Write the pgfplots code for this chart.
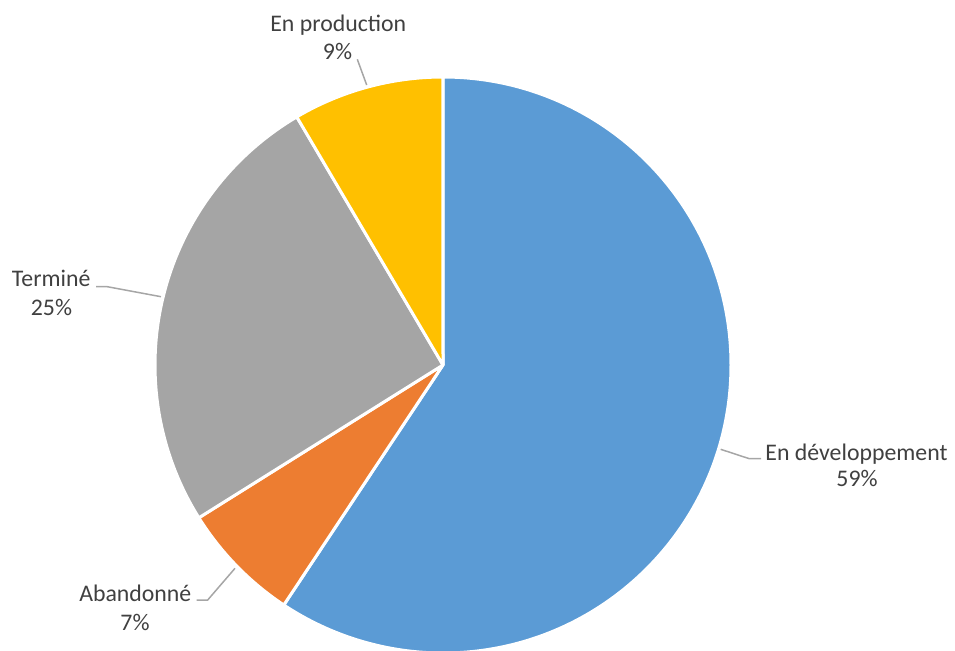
\documentclass[border=0pt]{standalone}
\usepackage{fontspec}
\setmainfont{Carlito}
\usepackage{pgfplots}
\pgfplotsset{compat=1.18}
\definecolor{cdev}{HTML}{5B9BD5}
\definecolor{caband}{HTML}{ED7D31}
\definecolor{cterm}{HTML}{A5A5A5}
\definecolor{cprod}{HTML}{FFC000}
\definecolor{lbl}{HTML}{404040}
\definecolor{lead}{HTML}{A6A6A6}
% data: counts per status (clockwise from the top)
\def\vDev{70}
\def\vAband{8}
\def\vTerm{30}
\def\vProd{10}
\pgfmathsetmacro{\vTotal}{\vDev+\vAband+\vTerm+\vProd}
\pgfmathsetmacro{\aA}{90}
\pgfmathsetmacro{\aB}{\aA-\vDev/\vTotal*360}
\pgfmathsetmacro{\aC}{\aB-\vAband/\vTotal*360}
\pgfmathsetmacro{\aD}{\aC-\vTerm/\vTotal*360}
\pgfmathsetmacro{\aE}{\aD-\vProd/\vTotal*360}
\def\R{144pt}
\begin{document}
\begin{tikzpicture}
\begin{axis}[width=477.5pt,height=325pt,scale only axis,hide axis,
  xmin=0,xmax=955,ymin=0,ymax=650,clip=true]
\def\cx{443}\def\cy{285}
\filldraw[fill=cdev,draw=white,line width=1.5pt,line join=round] (axis cs:\cx,\cy) -- ++(\aA:\R) arc[start angle=\aA,end angle=\aB,radius=\R] -- cycle;
\filldraw[fill=caband,draw=white,line width=1.5pt,line join=round] (axis cs:\cx,\cy) -- ++(\aB:\R) arc[start angle=\aB,end angle=\aC,radius=\R] -- cycle;
\filldraw[fill=cterm,draw=white,line width=1.5pt,line join=round] (axis cs:\cx,\cy) -- ++(\aC:\R) arc[start angle=\aC,end angle=\aD,radius=\R] -- cycle;
\filldraw[fill=cprod,draw=white,line width=1.5pt,line join=round] (axis cs:\cx,\cy) -- ++(\aD:\R) arc[start angle=\aD,end angle=\aE,radius=\R] -- cycle;
% leader lines
\draw[lead,line width=0.75pt] (axis cs:366.7,565) -- (axis cs:357.3,590.7);
\draw[lead,line width=0.75pt] (axis cs:96,363.3) -- (axis cs:107.3,363.3) -- (axis cs:161,353.3);
\draw[lead,line width=0.75pt] (axis cs:720.7,200.7) -- (axis cs:749.3,191.3) -- (axis cs:761,191.3);
\draw[lead,line width=0.75pt] (axis cs:235,81.7) -- (axis cs:207.7,50) -- (axis cs:196.7,50);
% labels
\tikzset{lb/.style={inner sep=0pt,anchor=base,text=lbl,font=\fontsize{11.9}{14}\selectfont}}
\node[lb] at (axis cs:338.3,618.3) {En production};
\node[lb] at (axis cs:337.5,590.7) {9\%};
\node[lb] at (axis cs:51.2,363.3) {Terminé};
\node[lb] at (axis cs:51.5,335) {25\%};
\node[lb] at (axis cs:856.5,190) {En développement};
\node[lb] at (axis cs:857,163.3) {59\%};
\node[lb] at (axis cs:135.3,48.3) {Abandonné};
\node[lb] at (axis cs:135,20) {7\%};
\end{axis}
\pgfresetboundingbox
\useasboundingbox (current axis.south west) rectangle (current axis.north east);
\end{tikzpicture}
\end{document}
